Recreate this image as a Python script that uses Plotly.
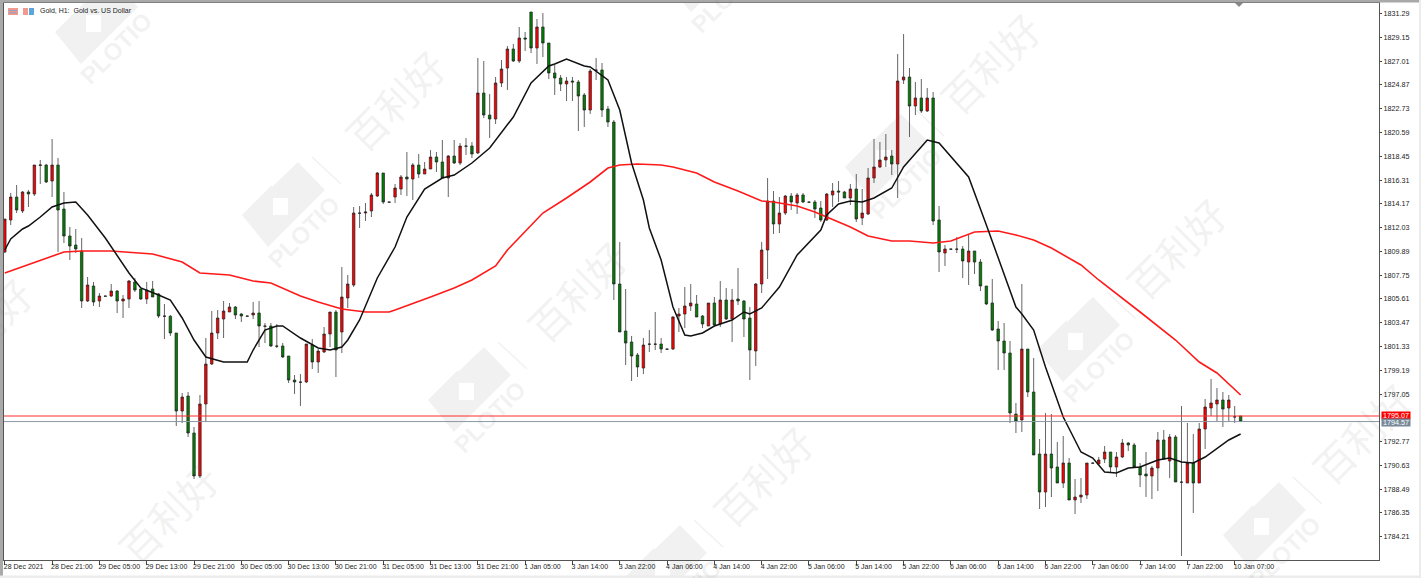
import plotly.graph_objects as go

# ---------- data ----------
opens = [1809.83,1812.71,1814.78,1813.52,1815.23,1815.05,1817.62,1817.66,1816.22,1817.66,
1813.70,1811.27,1810.46,1809.92,1805.42,1806.77,1805.42,1805.87,1805.87,1806.32,
1805.42,1805.60,1807.13,1806.50,1805.60,1806.50,1806.05,1804.07,1804.05,1802.54,
1795.52,1796.87,1793.54,1789.67,1796.15,1799.75,1802.54,1803.80,1804.43,1804.88,
1804.25,1804.07,1804.16,1804.34,1803.17,1803.17,1801.37,1801.37,1800.47,1798.31,
1798.13,1798.13,1801.46,1799.93,1800.83,1802.45,1804.43,1802.63,1805.69,1806.86,
1813.34,1813.34,1813.52,1814.87,1816.94,1814.33,1814.78,1815.50,1816.58,1816.40,
1817.66,1816.85,1817.30,1818.38,1817.93,1816.49,1818.47,1817.84,1819.37,1819.37,
1818.74,1824.14,1822.16,1821.80,1825.04,1826.39,1828.10,1827.02,1829.09,1831.43,
1828.19,1830.08,1828.64,1825.94,1825.49,1824.95,1825.22,1825.13,1823.96,1822.61,
1826.21,1826.21,1822.70,1821.53,1806.95,1802.72,1801.73,1800.56,1799.39,1801.55,
1801.55,1801.55,1801.10,1801.10,1804.07,1804.25,1804.97,1805.15,1804.07,1803.17,
1805.24,1803.35,1805.51,1803.80,1805.60,1805.42,1803.89,1800.92,1806.95,1810.01,
1814.42,1812.35,1813.34,1814.87,1814.24,1814.96,1814.33,1814.33,1813.79,1812.71,
1814.96,1815.32,1815.23,1814.69,1815.50,1812.89,1813.25,1816.49,1817.48,1818.11,
1818.47,1817.75,1825.31,1825.58,1822.97,1823.69,1822.52,1823.69,1812.71,1809.74,
1810.10,1810.10,1810.10,1808.93,1809.92,1808.93,1806.77,1805.24,1802.90,1801.82,
1800.74,1795.25,1794.71,1801.10,1797.23,1791.65,1788.23,1791.65,1790.48,1789.04,
1790.84,1787.51,1787.78,1787.96,1790.84,1790.75,1791.20,1791.83,1790.48,1791.38,
1792.64,1792.46,1790.48,1789.85,1789.67,1790.39,1792.91,1791.02,1793.18,1789.13,
1789.04,1790.84,1789.04,1793.90,1795.79,1796.15,1796.51,1795.79,1795.00,1795.07]

highs = [1812.80,1815.14,1815.86,1815.32,1815.41,1817.66,1818.11,1817.75,1820.00,1818.29,
1815.23,1812.08,1811.90,1811.09,1807.58,1807.13,1806.14,1805.90,1806.95,1806.41,
1805.96,1807.31,1807.49,1806.50,1807.13,1807.22,1806.14,1805.15,1804.16,1802.54,
1797.14,1797.23,1794.08,1796.96,1802.09,1804.52,1804.61,1805.42,1805.24,1804.97,
1804.34,1804.10,1805.33,1805.42,1803.44,1803.44,1803.35,1801.64,1800.47,1798.76,
1798.85,1801.55,1802.00,1801.10,1803.08,1804.43,1804.61,1808.48,1807.76,1813.88,
1813.97,1814.24,1815.14,1817.03,1816.94,1814.36,1815.95,1816.76,1818.83,1817.84,
1818.65,1817.93,1819.01,1818.83,1819.91,1818.56,1819.91,1819.64,1820.09,1819.73,
1827.29,1827.02,1824.05,1825.58,1827.11,1828.37,1828.55,1830.08,1829.63,1831.43,
1830.80,1831.34,1828.64,1826.66,1825.76,1825.58,1825.58,1825.31,1824.14,1826.30,
1827.29,1826.84,1822.97,1821.71,1810.73,1806.50,1802.27,1800.74,1802.09,1802.81,
1804.43,1802.09,1801.13,1804.07,1804.79,1806.68,1806.95,1805.96,1804.16,1805.24,
1805.78,1807.22,1806.59,1806.50,1808.39,1805.51,1804.88,1807.04,1810.73,1816.49,
1815.32,1814.78,1814.96,1815.14,1815.14,1815.14,1814.36,1814.51,1814.42,1815.14,
1816.04,1816.22,1815.32,1815.95,1816.85,1815.50,1817.39,1820.00,1819.73,1820.45,
1819.01,1827.65,1829.45,1826.39,1825.13,1825.40,1824.59,1824.23,1813.97,1810.46,
1810.13,1811.18,1810.37,1811.36,1809.92,1809.20,1806.77,1807.40,1803.62,1803.44,
1801.82,1796.24,1806.95,1801.10,1800.29,1793.00,1795.34,1795.25,1792.73,1793.27,
1791.29,1789.40,1789.49,1790.84,1790.87,1791.38,1792.37,1791.83,1791.83,1793.00,
1792.73,1792.64,1790.84,1791.83,1790.57,1793.63,1793.81,1793.45,1793.36,1795.97,
1794.44,1793.45,1794.44,1796.60,1798.40,1797.59,1797.23,1796.96,1795.97,1795.07]

lows = [1809.74,1812.26,1813.34,1813.34,1813.88,1814.87,1815.95,1816.04,1814.78,1809.83,
1810.64,1809.11,1809.74,1804.79,1805.33,1804.97,1804.88,1805.82,1805.78,1804.34,
1803.89,1804.79,1806.23,1805.51,1805.15,1805.78,1803.89,1802.00,1802.27,1794.17,
1794.44,1793.18,1789.40,1789.49,1794.53,1799.66,1802.00,1802.09,1804.43,1803.80,
1803.53,1804.02,1803.80,1801.28,1801.64,1801.28,1801.19,1800.29,1798.04,1797.05,
1795.97,1798.04,1799.30,1798.94,1800.74,1801.28,1798.58,1800.74,1804.79,1806.68,
1811.99,1812.62,1812.98,1814.78,1814.15,1814.28,1814.24,1814.96,1814.87,1814.51,
1816.49,1816.85,1817.30,1817.03,1816.49,1814.78,1817.75,1817.66,1818.56,1818.29,
1818.65,1821.89,1820.09,1821.35,1824.68,1824.41,1826.93,1826.84,1827.92,1827.74,
1826.75,1827.38,1825.40,1823.96,1824.32,1823.42,1823.42,1820.72,1821.08,1822.25,
1825.31,1821.98,1821.08,1805.51,1802.63,1799.66,1798.22,1798.58,1798.85,1800.83,
1801.01,1800.74,1801.05,1801.01,1802.63,1802.99,1804.52,1803.98,1802.99,1803.17,
1803.17,1803.08,1803.71,1801.73,1805.06,1802.18,1798.31,1799.57,1806.14,1807.40,
1811.45,1811.54,1813.16,1813.61,1813.25,1814.24,1814.28,1812.89,1812.53,1812.62,
1813.88,1814.33,1814.69,1814.06,1812.53,1812.26,1813.16,1816.04,1817.39,1817.48,
1816.76,1814.69,1824.95,1820.18,1822.16,1822.34,1822.43,1812.26,1808.03,1808.57,
1810.05,1809.74,1807.49,1806.86,1807.85,1806.32,1805.06,1802.72,1799.21,1799.21,
1794.44,1793.54,1793.63,1796.78,1791.56,1786.70,1786.88,1787.78,1789.04,1788.59,
1787.51,1786.25,1787.24,1787.60,1790.79,1790.75,1790.84,1789.94,1789.58,1791.29,
1791.92,1790.48,1788.68,1787.78,1787.60,1788.32,1791.11,1789.49,1789.13,1782.47,
1789.04,1786.34,1789.04,1792.10,1795.07,1794.62,1794.08,1794.53,1794.44,1794.57]

closes = [1812.80,1814.78,1813.61,1815.23,1815.05,1817.66,1817.66,1816.13,1817.66,1813.61,
1811.27,1810.37,1810.10,1805.42,1806.86,1805.33,1805.87,1805.85,1806.32,1805.42,
1805.60,1807.22,1806.41,1805.60,1806.41,1805.78,1804.07,1804.05,1802.54,1795.52,
1796.78,1793.54,1789.67,1796.15,1799.75,1802.54,1803.89,1804.52,1804.88,1804.16,
1804.07,1804.05,1804.34,1803.17,1803.15,1801.37,1801.35,1800.38,1798.31,1798.13,
1798.11,1801.55,1799.93,1800.92,1802.45,1804.43,1801.01,1805.78,1806.95,1813.34,
1813.32,1813.43,1814.96,1816.94,1814.33,1814.31,1815.59,1816.58,1816.40,1817.66,
1816.85,1817.30,1818.38,1817.93,1816.49,1818.47,1817.84,1819.37,1819.35,1818.65,
1824.14,1822.16,1821.80,1825.04,1826.30,1828.10,1827.02,1829.09,1829.00,1828.19,
1830.08,1828.64,1825.94,1825.49,1824.95,1825.22,1825.13,1823.87,1822.61,1826.12,
1826.19,1822.61,1821.53,1806.95,1802.63,1801.64,1800.47,1799.48,1801.46,1801.53,
1801.53,1801.10,1801.08,1803.98,1804.25,1804.97,1805.24,1803.98,1803.35,1805.24,
1803.26,1805.51,1803.80,1805.51,1805.42,1803.80,1801.01,1806.95,1810.01,1814.42,
1812.35,1813.34,1814.87,1814.33,1814.96,1814.33,1814.31,1813.70,1812.71,1815.05,
1815.32,1815.23,1814.69,1815.50,1812.80,1813.34,1816.49,1817.48,1818.11,1818.38,
1817.75,1825.22,1825.58,1822.97,1823.69,1822.52,1823.69,1812.62,1809.83,1810.10,
1810.08,1810.08,1809.02,1809.92,1808.93,1806.77,1805.15,1802.81,1801.82,1800.74,
1795.34,1794.62,1801.10,1797.23,1791.56,1788.23,1791.65,1790.39,1789.04,1790.84,
1787.51,1787.78,1787.96,1790.84,1790.82,1791.11,1791.83,1790.48,1791.38,1792.64,
1792.46,1790.48,1789.76,1789.67,1790.39,1792.91,1791.20,1793.18,1789.13,1789.11,
1790.84,1789.04,1793.90,1795.88,1796.24,1796.51,1795.70,1796.51,1794.98,1794.57]

fast_ma_bar = [0,1,3,4,6,8,10,12,14,16,17,21,23,26,28,30,32,34,37,41,42,44,46,47,50,53,55,57,58,60,63,66,68,71,74,76,79,82,86,89,92,93,95,98,99,102,104,106,108,109,111,113,115,116,118,120,123,125,126,128,131,134,138,139,141,143,145,147,150,152,156,158,163,166,169,171,172,174,176,179,182,184,186,188,190,192,195,197,199,201,203,207,209]
fast_ma = [1810.01,1811.00,1811.90,1812.17,1812.98,1813.88,1814.24,1814.33,1813.16,1811.81,1811.09,1807.94,1806.59,1805.96,1805.51,1803.89,1801.91,1800.38,1799.93,1799.93,1801.01,1802.81,1803.17,1803.17,1802.09,1801.19,1801.01,1801.28,1801.91,1803.71,1807.49,1810.28,1812.98,1815.50,1816.49,1816.76,1817.84,1819.19,1821.98,1825.04,1826.57,1826.75,1827.20,1826.57,1826.48,1825.31,1822.61,1817.84,1814.51,1811.99,1809.11,1804.88,1802.36,1802.27,1802.54,1803.17,1803.71,1804.43,1804.25,1804.79,1806.68,1809.56,1811.81,1813.16,1814.15,1814.42,1814.33,1814.69,1815.59,1817.48,1819.91,1819.64,1816.58,1812.26,1807.94,1804.88,1804.25,1802.81,1799.48,1794.98,1791.83,1791.29,1790.03,1789.94,1790.39,1790.48,1791.11,1791.29,1790.93,1790.84,1791.38,1792.91,1793.45]

slow_ma_bar = [0,10,13,18,25,30,33,38,42,45,50,53,57,61,65,66,72,76,79,83,85,88,91,95,99,102,104,107,111,113,117,120,124,128,130,134,137,139,143,146,150,153,157,160,164,168,171,174,177,182,185,192,198,202,205,209]
slow_ma = [1807.94,1809.83,1809.92,1809.92,1809.65,1808.93,1807.94,1807.76,1807.22,1807.04,1805.87,1805.33,1804.70,1804.43,1804.43,1804.61,1805.78,1806.59,1807.31,1808.57,1810.01,1811.63,1813.34,1814.69,1816.13,1817.39,1817.66,1817.75,1817.66,1817.48,1816.94,1816.13,1815.32,1814.42,1814.33,1813.97,1813.43,1812.98,1812.08,1811.27,1810.82,1810.82,1810.64,1810.82,1811.63,1811.72,1811.36,1810.91,1810.19,1808.66,1807.31,1804.43,1801.91,1799.93,1798.94,1796.96]

time_labels = ["28 Dec 2021","28 Dec 21:00","29 Dec 05:00","29 Dec 13:00","29 Dec 21:00","30 Dec 05:00","30 Dec 13:00","30 Dec 21:00","31 Dec 05:00","31 Dec 13:00","31 Dec 21:00","1 Jan 05:00","3 Jan 14:00","3 Jan 22:00","4 Jan 06:00","4 Jan 14:00","4 Jan 22:00","5 Jan 06:00","5 Jan 14:00","5 Jan 22:00","6 Jan 06:00","6 Jan 14:00","6 Jan 22:00","7 Jan 06:00","7 Jan 14:00","7 Jan 22:00","10 Jan 07:00"]
time_label_bars = list(range(0, 209, 8))
price_ticks = [1784.21,1786.35,1788.49,1790.63,1792.77,1797.05,1799.19,1801.33,1803.47,1805.61,1807.75,1809.89,1812.03,1814.17,1816.31,1818.45,1820.59,1822.73,1824.87,1827.01,1829.15,1831.29]
ask_price = 1795.07
bid_price = 1794.57
title_text = "Gold, H1:  Gold vs. US Dollar"

# ---------- layout geometry ----------
W, H = 1421, 578
L, R, T, B = 4, 1379, 3, 560
def px(x): return (x - L) / (R - L)
def py(y): return (B - y) / (B - T)

WM = "#f1f1f1"
FONT = "Liberation Sans"
TXT = "#222222"
shapes, notes = [], []

def poly(points, fill, layer="below"):
    d = "M " + " L ".join(f"{px(a):.5f} {py(b):.5f}" for a, b in points) + " Z"
    shapes.append(dict(type="path", xref="paper", yref="paper", path=d, fillcolor=fill,
                       line=dict(width=0), layer=layer))

# watermark lattice (decoration only)
for cx, cy in [(395,100),(577,291),(763,476),(990,63),(1176,248),(1362,433),(168,513),(-18,328)]:
    notes.append(dict(text="百利好", xref="paper", yref="paper", x=px(cx), y=py(cy), showarrow=False,
                      textangle=-45, font=dict(family="Noto Sans CJK SC", size=40, color="rgba(120,120,120,0.11)"),
                      xanchor="center", yanchor="middle"))
for cx, cy in [(98,20),(285,203),(471,388),(667,566),(708,-32),(888,155),(1080,338),(1266,523)]:
    poly([(cx+13,cy-41),(cx+40,cy-13),(cx-17,cy+44),(cx-43,cy+12),(cx-13,cy-18),(cx-13,cy-16)], WM)
    poly([(cx-12,cy-5),(cx+3,cy-5),(cx+3,cy+12),(cx-12,cy+12)], "#ffffff")
    shapes.append(dict(type="line", xref="paper", yref="paper", x0=px(cx+27), y0=py(cy-46), x1=px(cx+56), y1=py(cy-19),
                       line=dict(color=WM, width=1.5), layer="below"))
    notes.append(dict(text="<b>PLOTIO</b>", xref="paper", yref="paper", x=px(cx+18), y=py(cy+29), showarrow=False,
                      textangle=-45, font=dict(family=FONT, size=24, color="rgba(120,120,120,0.11)"),
                      xanchor="center", yanchor="middle"))

# window frame
poly([(0,0),(3,0),(3,H),(0,H)], "#a9a9a9", "above")
poly([(0,0),(W,0),(W,2.4),(0,2.4)], "#a9a9a9", "above")
poly([(0,575.5),(W,575.5),(W,H),(0,H)], "#ececec", "above")
poly([(1419,0),(W,0),(W,H),(1419,H)], "#ececec", "above")

# chart-shift marker and toolbar icons
poly([(1235,3),(1243,3),(1239,7)], "#8a8a8a", "above")
poly([(8,8),(18,8),(18,15),(8,15)], "#f29a8e", "above")
for yy in (10, 12.5):
    poly([(9,yy),(17,yy),(17,yy+0.8),(9,yy+0.8)], "#6f9fd8", "above")
poly([(23,8),(28,8),(28,15),(23,15)], "#f29a8e", "above")
poly([(29,8),(34,8),(34,15),(29,15)], "#5aa5dc", "above")

notes.append(dict(text=title_text, xref="paper", yref="paper", x=px(38), y=py(11), showarrow=False,
                  xanchor="left", yanchor="middle", font=dict(family=FONT, size=7, color=TXT)))
for price, colr, off in [(ask_price, "#ff0000", -1), (bid_price, "#778899", 1)]:
    notes.append(dict(text=f"{price:.2f}", xref="paper", yref="y", x=1.0, y=price, showarrow=False,
                      xanchor="left", yanchor="middle", xshift=2, yshift=-off, font=dict(family=FONT, size=7.2, color="#ffffff"),
                      bgcolor=colr, borderpad=0, width=28, height=7))

bars = list(range(len(opens)))
fig = go.Figure()
fig.add_trace(go.Candlestick(
    x=bars, open=opens, high=highs, low=lows, close=closes, whiskerwidth=0,
    increasing=dict(line=dict(color="#222222", width=0.7), fillcolor="#ff0000"),
    decreasing=dict(line=dict(color="#222222", width=0.7), fillcolor="#008000"),
    showlegend=False, hoverinfo="skip"))
fig.add_trace(go.Scatter(x=slow_ma_bar, y=slow_ma, mode="lines", line=dict(color="#ff1a1a", width=1.6), showlegend=False, hoverinfo="skip"))
fig.add_trace(go.Scatter(x=fast_ma_bar, y=fast_ma, mode="lines", line=dict(color="#111111", width=1.5), showlegend=False, hoverinfo="skip"))
for price, colr in [(ask_price, "#ff2a2a"), (bid_price, "#8c98a6")]:
    shapes.append(dict(type="line", xref="paper", x0=0, x1=1, yref="y", y0=price, y1=price,
                       line=dict(color=colr, width=1), layer="above"))

fig.update_layout(
    width=W, height=H, autosize=False, paper_bgcolor="white", plot_bgcolor="rgba(0,0,0,0)",
    margin=dict(l=L, r=W-R, t=T, b=H-B, pad=0, autoexpand=False), showlegend=False, shapes=shapes, annotations=notes,
    font=dict(family=FONT, size=7, color=TXT), boxgap=0.4,
    xaxis=dict(type="linear", range=[(L-4.8)/5.913, (R-4.8)/5.913], rangeslider=dict(visible=False),
               tickmode="array", tickvals=time_label_bars, ticktext=time_labels, ticks="outside", ticklen=4,
               tickcolor="#444444", tickwidth=1, ticklabelposition="outside right", tickangle=0, automargin=False,
               ticklabelshift=-2, showgrid=False, zeroline=False, showline=True, linecolor="#555555", linewidth=1, mirror=True,
               tickfont=dict(family=FONT, size=7, color=TXT)),
    yaxis=dict(side="right", range=[1782.11, 1832.24], tickmode="array", tickvals=price_ticks, automargin=False,
               ticktext=[f"{v:.2f}" for v in price_ticks], ticks="outside", ticklen=2, tickcolor="#444444",
               showgrid=False, zeroline=False, showline=True, linecolor="#555555", linewidth=1, mirror=True,
               tickfont=dict(family=FONT, size=7.2, color=TXT)),
)
fig.write_html("out.html", config=dict(displayModeBar=False),
               post_script="document.body.style.margin='0';document.documentElement.style.overflow='hidden';")
